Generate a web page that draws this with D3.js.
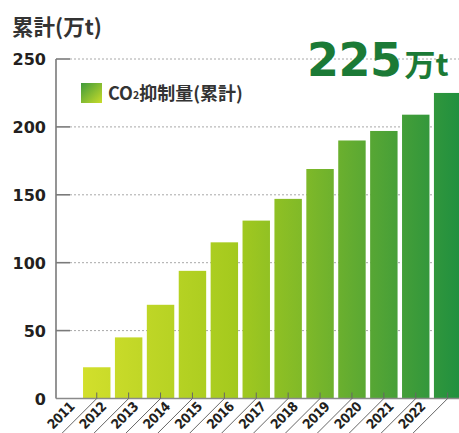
<!DOCTYPE html>
<html>
<head>
<meta charset="utf-8">
<script src="https://cdn.jsdelivr.net/npm/d3@7"></script>
<style>
  html, body { margin: 0; padding: 0; background: #fff; }
  svg { display: block; }
</style>
</head>
<body>
<svg id="chart" width="459" height="433"></svg>
<script>
const years = ['2011', '2012', '2013', '2014', '2015', '2016', '2017', '2018', '2019', '2020', '2021', '2022']
const values = [23, 45, 69, 94, 115, 131, 147, 169, 190, 197, 209, 225]
const yTicks = [0, 50, 100, 150, 200, 250]
const title = '累計(万t)'
const legendLabel = ['CO', '2', '抑制量(累計)']
const total = ['225', '万t']

const svg = d3.select('#chart')
const numFont = '"DejaVu Sans", sans-serif'
const condFont = '"DejaVu Sans Condensed", "DejaVu Sans", sans-serif'
const jpFont = '"Noto Sans CJK JP", "Noto Sans", sans-serif'

const x = d3.scaleBand()
  .domain(years)
  .range([80.8, 463.6])
  .paddingInner(0.14)
  .paddingOuter(0.07)

const y = d3.scaleLinear()
  .domain([0, 250])
  .range([398.5, 59])

const axisX = 56
const defs = svg.append('defs')

const barGrad = defs.append('linearGradient')
  .attr('id', 'barGrad')
  .attr('gradientUnits', 'userSpaceOnUse')
  .attr('x1', 83).attr('x2', 459)
  .attr('y1', 0).attr('y2', 0)
const stops = [[0, '#d2df2c'], [0.4, '#a5ca1e'], [0.6, '#7db829'], [0.8, '#4fa336'], [1, '#21903f']]
barGrad.selectAll('stop')
  .data(stops)
  .join('stop')
    .attr('offset', d => d[0])
    .attr('stop-color', d => d[1])

const legGrad = defs.append('linearGradient')
  .attr('id', 'legGrad')
  .attr('x1', 0).attr('y1', 0)
  .attr('x2', 1).attr('y2', 1)
legGrad.append('stop').attr('offset', 0).attr('stop-color', '#3f9a3a')
legGrad.append('stop').attr('offset', 1).attr('stop-color', '#c9dc2a')

// gridlines
svg.append('g')
  .selectAll('line')
  .data(yTicks.filter(d => d > 0))
  .join('line')
    .attr('x1', axisX + 14)
    .attr('x2', 459)
    .attr('y1', d => y(d))
    .attr('y2', d => y(d))
    .attr('stroke', '#a8a8a8')
    .attr('stroke-width', 1)
    .attr('stroke-dasharray', '2,2')

// bars
svg.append('g')
  .selectAll('rect')
  .data(values)
  .join('rect')
    .attr('x', (d, i) => x(years[i]))
    .attr('y', d => y(d))
    .attr('width', x.bandwidth())
    .attr('height', d => y(0) - y(d))
    .attr('fill', 'url(#barGrad)')

// y axis
const yAxis = svg.append('g')
yAxis.append('line')
  .attr('x1', axisX).attr('x2', axisX)
  .attr('y1', y(250)).attr('y2', y(0))
  .attr('stroke', '#7a7a7a')
  .attr('stroke-width', 1.6)
yAxis.append('line')
  .attr('x1', axisX).attr('x2', 459)
  .attr('y1', y(0)).attr('y2', y(0))
  .attr('stroke', '#8a8a8a')
  .attr('stroke-width', 1.4)
yAxis.selectAll('.tick')
  .data(yTicks.filter(d => d > 0))
  .join('line')
    .attr('x1', axisX).attr('x2', axisX + 14)
    .attr('y1', d => y(d)).attr('y2', d => y(d))
    .attr('stroke', '#7a7a7a')
    .attr('stroke-width', 1.6)
yAxis.selectAll('text')
  .data(yTicks)
  .join('text')
    .attr('x', 46)
    .attr('y', d => y(d) + 6)
    .attr('text-anchor', 'end')
    .attr('font-family', numFont)
    .attr('font-weight', 'bold')
    .attr('font-size', 16)
    .attr('fill', '#231f20')
    .text(d => d)

// x labels with leader lines
const xLab = svg.append('g')
  .selectAll('g')
  .data(years)
  .join('g')
    .attr('transform', d => `translate(${x(d) + x.bandwidth() / 2},${y(0)})`)
xLab.append('path')
  .attr('d', 'M0,-6V0L-48,48')
  .attr('fill', 'none')
  .attr('stroke', '#666')
  .attr('stroke-width', 1)
xLab.append('text')
  .attr('transform', 'translate(-36,17) rotate(-45)')
  .attr('text-anchor', 'middle')
  .attr('dy', '0.35em')
  .attr('font-family', condFont)
  .attr('font-weight', 'bold')
  .attr('font-size', 13.5)
  .attr('letter-spacing', -0.6)
  .attr('fill', '#231f20')
  .text(d => d)

// title
svg.append('text')
  .attr('x', 12)
  .attr('y', 35)
  .attr('font-family', jpFont)
  .attr('font-weight', 'bold')
  .attr('font-size', 21.5)
  .attr('fill', '#333')
  .text(title)

// legend
svg.append('rect')
  .attr('x', 81).attr('y', 83)
  .attr('width', 21).attr('height', 20)
  .attr('fill', 'url(#legGrad)')
const leg = svg.append('text')
  .attr('x', 108)
  .attr('y', 100)
  .attr('font-family', jpFont)
  .attr('font-weight', 'bold')
  .attr('font-size', 18)
  .attr('fill', '#333')
leg.append('tspan').text(legendLabel[0])
leg.append('tspan').attr('font-size', 10.5).attr('dy', -1).text(legendLabel[1])
leg.append('tspan').attr('dy', 1).text(legendLabel[2])

// total callout
const big = svg.append('text')
  .attr('x', 307)
  .attr('y', 76)
  .attr('font-family', numFont)
  .attr('font-weight', 'bold')
  .attr('fill', '#1b7a36')
big.append('tspan').attr('font-size', 46).attr('letter-spacing', -0.5).text(total[0])
big.append('tspan').attr('font-family', jpFont).attr('font-size', 31).attr('dx', 3).text(total[1])
</script>
</body>
</html>
